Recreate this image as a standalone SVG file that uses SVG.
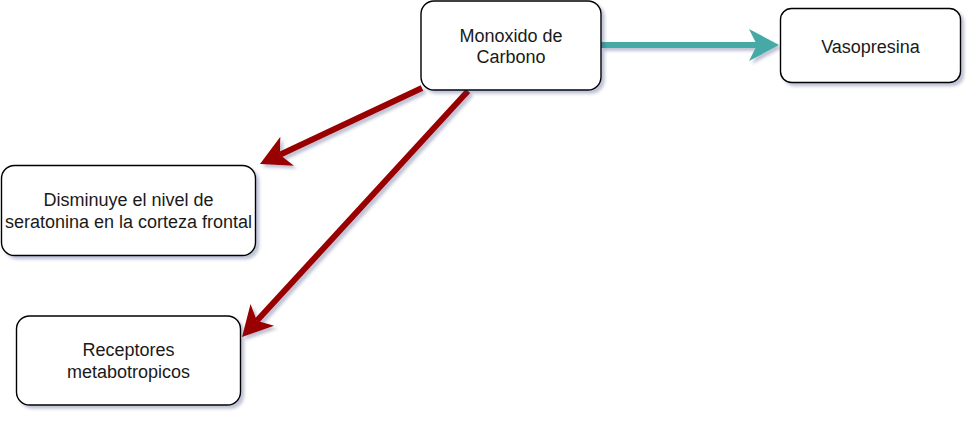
<svg xmlns="http://www.w3.org/2000/svg" width="978" height="423" viewBox="0 0 978 423">
<defs>
<filter id="sh" filterUnits="userSpaceOnUse" x="0" y="0" width="978" height="423">
<feDropShadow dx="3" dy="3" stdDeviation="1.6" flood-color="#2a3a70" flood-opacity="0.3"/>
</filter>
<marker id="ahRed" markerUnits="userSpaceOnUse" markerWidth="40" markerHeight="40" viewBox="-10 -20 40 40" refX="0" refY="0" orient="auto" overflow="visible">
<path d="M22,0 L-8,-16 L0,0 L-8,16 Z" fill="#990000"/>
</marker>
<marker id="ahTeal" markerUnits="userSpaceOnUse" markerWidth="40" markerHeight="40" viewBox="-10 -20 40 40" refX="0" refY="0" orient="auto" overflow="visible">
<path d="M22,0 L-8,-16 L0,0 L-8,16 Z" fill="#45aaa6"/>
</marker>
</defs>
<style>
.box{fill:#ffffff;stroke:#000000;stroke-width:1.4;filter:url(#sh)}
.t{font-family:"Liberation Sans",Arial,sans-serif;font-size:18px;fill:#1a1a1a;text-anchor:middle}
.red{fill:none;stroke:#990000;stroke-width:6}
.teal{fill:none;stroke:#45aaa6;stroke-width:6}
</style>
<rect width="978" height="423" fill="#ffffff"/>
<g id="connectors" filter="url(#sh)">
<path class="teal" d="M601,45 L757,45" marker-end="url(#ahTeal)"/>
<path class="red" d="M422,88 L279.9,154.7" marker-end="url(#ahRed)"/>
<path class="red" d="M468,91 L256.9,320.8" marker-end="url(#ahRed)"/>
</g>
<g id="monoxido">
<rect class="box" x="421" y="1" width="180" height="89" rx="13"/>
<text class="t" x="511" y="41.5">Monoxido de</text>
<text class="t" x="511" y="63">Carbono</text>
</g>
<g id="vasopresina">
<rect class="box" x="780.5" y="8.5" width="180" height="74" rx="11"/>
<text class="t" x="870.5" y="53">Vasopresina</text>
</g>
<g id="disminuye">
<rect class="box" x="1.5" y="165.5" width="254" height="90" rx="13"/>
<text class="t" x="128.5" y="206">Disminuye el nivel de</text>
<text class="t" x="128.5" y="227.5">seratonina en la corteza frontal</text>
</g>
<g id="receptores">
<rect class="box" x="16.5" y="316" width="224" height="89" rx="13"/>
<text class="t" x="128.5" y="356">Receptores</text>
<text class="t" x="128.5" y="377.5">metabotropicos</text>
</g>
</svg>
